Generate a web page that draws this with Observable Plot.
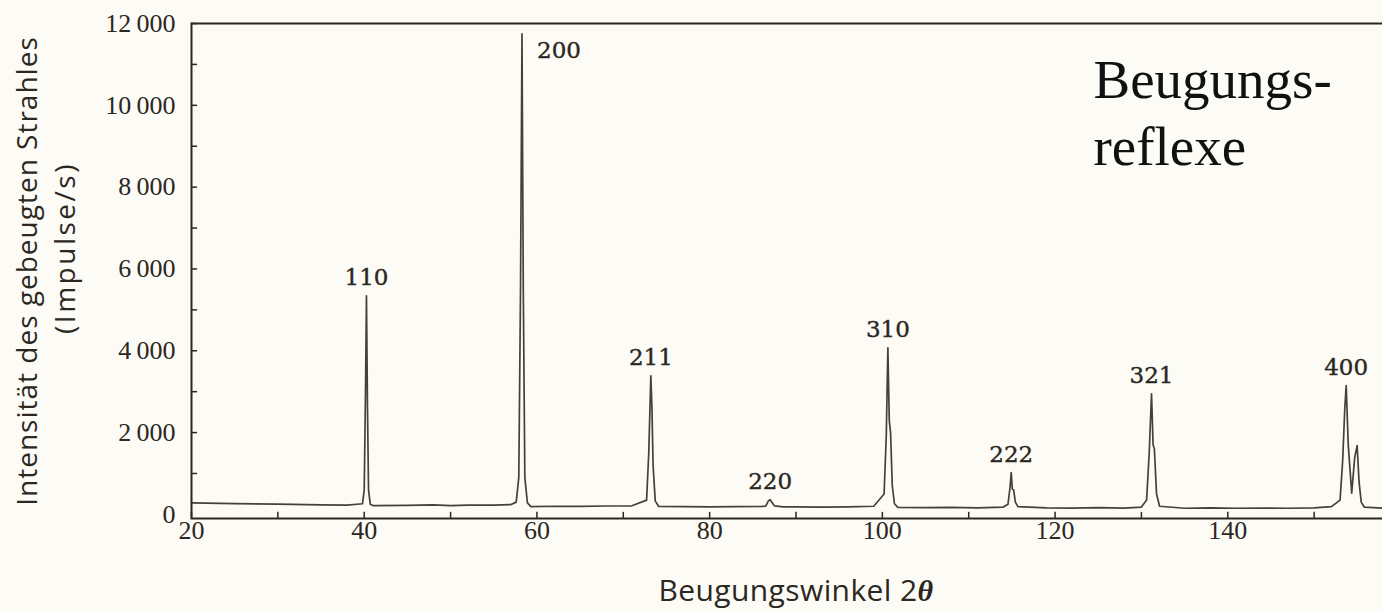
<!DOCTYPE html>
<html><head><meta charset="utf-8">
<script src="https://cdn.jsdelivr.net/npm/d3@7"></script>
<script src="https://cdn.jsdelivr.net/npm/@observablehq/plot@0.6"></script>
<style>
html,body{margin:0;padding:0;background:#fcfbf5;overflow:hidden;width:1382px;height:611px}
#chart svg{display:block}
</style></head><body><div id="chart"></div>
<script>
// Diffraction angle 2θ (degrees) and intensity (pulses/s)
const twoTheta = [
  20, 25, 30, 35, 38,
  39.8, 40.0, 40.15, 40.26, 40.38, 40.5, 40.7,
  41, 45, 48, 50, 52, 55, 57,
  57.6, 57.9, 58.1, 58.27, 58.42, 58.6, 58.9,
  59.3, 62, 65, 68, 71,
  72.7, 72.95, 73.19, 73.32, 73.45, 73.7,
  74.1, 77, 80, 83, 86,
  86.5, 86.8, 87.0, 87.2, 87.5,
  88.5, 90, 93, 96, 99,
  100.2, 100.45, 100.64, 100.8, 100.95, 101.15, 101.4,
  101.8, 105, 108, 111, 114,
  114.55, 114.78, 114.92, 115.05, 115.2, 115.4, 115.7,
  119, 122, 125, 128, 130,
  130.6, 130.9, 131.17, 131.35, 131.5, 131.75, 132.1,
  135, 138, 141, 144, 147, 150, 152,
  153.0, 153.3, 153.55, 153.71, 153.95, 154.35, 154.7, 154.98, 155.2, 155.45, 155.8,
  158, 160
];
const counts = [
  280, 265, 250, 235, 225,
  260, 600, 3000, 5340, 2600, 600, 250,
  215, 220, 235, 215, 225, 225, 240,
  300, 900, 5500, 11750, 5500, 900, 280,
  190, 200, 195, 205, 210,
  350, 1500, 3390, 2600, 1200, 330,
  195, 190, 185, 190, 195,
  200, 330, 360, 300, 210,
  185, 185, 180, 185, 200,
  500, 1900, 4070, 2300, 2000, 700, 260,
  170, 165, 170, 160, 180,
  250, 650, 1020, 620, 600, 300, 190,
  160, 155, 165, 155, 180,
  350, 1500, 2950, 1700, 1600, 500, 200,
  150, 160, 150, 155, 150, 160, 190,
  350, 1300, 2600, 3150, 1700, 520, 1400, 1680, 800, 300, 180,
  150, 150
];
const peakLabels  = ["110", "200", "211", "220", "310", "222", "321", "400"];
const peakAngles  = [40.26, 58.27, 73.19, 87.0, 100.64, 114.92, 131.17, 153.71];
const peakHeights = [5340, 11750, 3390, 360, 4070, 1020, 2950, 3150];
const xLabelTicks = [20, 40, 60, 80, 100, 120, 140, 160];
const xMinorTicks = [20, 30, 40, 50, 60, 70, 80, 90, 100, 110, 120, 130, 140, 150, 160];
const yLabelTicks = [0, 2000, 4000, 6000, 8000, 10000, 12000];
const yMinorTicks = [1000, 2000, 3000, 4000, 5000, 6000, 7000, 8000, 9000, 10000, 11000, 12000];
const yTitle = ["Intensität des gebeugten Strahles", "(Impulse/s)"];
const xTitle = "Beugungswinkel 2θ";
const note = "Beugungs-\nreflexe";

const ink = "#2b2722";
const lineInk = "#46403a";
const bg = "#fcfbf5";
const serif = "'Liberation Serif', serif";
const labelSerif = "'DejaVu Serif', serif";
const sans = "'Open Sans', sans-serif";

const data = twoTheta.map((t, i) => ({t, c: counts[i]}));
const peaks = peakLabels.map((l, i) => ({l, t: peakAngles[i], c: peakHeights[i]}));
const fmt = d => d === 0 ? "0" : d3.format(",")(d).replace(",", "\u2009");

const chart = Plot.plot({
  width: 1440,
  height: 611,
  marginLeft: 191,
  marginRight: 40,
  marginTop: 23,
  marginBottom: 93,
  style: {background: bg, maxWidth: "none", overflow: "visible", color: ink},
  x: {domain: [20, 160]},
  y: {domain: [-100, 12000]},
  marks: [
    Plot.ruleX(xMinorTicks, {y1: -100, y2: 50, stroke: ink, strokeWidth: 1.5}),
    Plot.ruleY(yMinorTicks, {x1: 20, x2: 20.7, stroke: ink, strokeWidth: 1.5}),
    Plot.line(data, {x: "t", y: "c", stroke: lineInk, strokeWidth: 1.7}),
    Plot.frame({stroke: ink, strokeWidth: 2}),
    Plot.axisY({ticks: yLabelTicks, tickSize: 0, tickPadding: 16, tickFormat: fmt, label: null,
      fontSize: 26, fontFamily: serif, fill: ink, stroke: ink, strokeWidth: 0.5}),
    Plot.axisX({ticks: xLabelTicks, tickSize: 0, tickPadding: 2, label: null,
      fontSize: 26, fontFamily: serif, fill: ink, stroke: ink, strokeWidth: 0.5}),
    Plot.text(peaks.filter(d => d.l !== "200"), {x: "t", y: "c", text: "l", dy: -18,
      fontSize: 23, fontFamily: labelSerif, fill: ink, stroke: ink, strokeWidth: 0.4}),
    Plot.text(peaks.filter(d => d.l === "200"), {x: "t", y: "c", text: "l", dx: 37, dy: 17,
      fontSize: 23, fontFamily: labelSerif, fill: ink, stroke: ink, strokeWidth: 0.4}),
    Plot.text([yTitle[0]], {frameAnchor: "left", textAnchor: "middle", lineAnchor: "middle",
      rotate: -90, dx: -163, dy: 0, fontSize: 28, fontFamily: sans, fill: ink}),
    Plot.text([yTitle[1]], {frameAnchor: "left", textAnchor: "middle", lineAnchor: "middle",
      rotate: -90, dx: -125, dy: -23, fontSize: 28, fontFamily: sans, fill: ink}),
    Plot.text([xTitle], {frameAnchor: "bottom", textAnchor: "middle", lineAnchor: "middle",
      dx: 0, dy: 73, fontSize: 30, fontFamily: sans, fill: ink}),
    Plot.text([note], {frameAnchor: "top-left", textAnchor: "start", lineAnchor: "top",
      dx: 902, dy: 27, lineHeight: 1.22, fontSize: 55, fontFamily: serif, fill: "#111"})
  ]
});
document.getElementById("chart").appendChild(chart);
d3.select(chart).selectAll("text").each(function() {
  const t = this.textContent;
  if (t === yTitle[0]) this.setAttribute("letter-spacing", "1");
  if (t === yTitle[1]) this.setAttribute("letter-spacing", "2.5");
  if (t === xTitle) {
    this.setAttribute("letter-spacing", "0.4");
    this.textContent = "Beugungswinkel 2";
    const ts = document.createElementNS("http://www.w3.org/2000/svg", "tspan");
    ts.setAttribute("font-style", "italic");
    ts.setAttribute("font-family", "'Liberation Serif', serif");
    ts.setAttribute("font-weight", "bold");
    ts.textContent = "θ";
    this.appendChild(ts);
  }
});
</script></body></html>
